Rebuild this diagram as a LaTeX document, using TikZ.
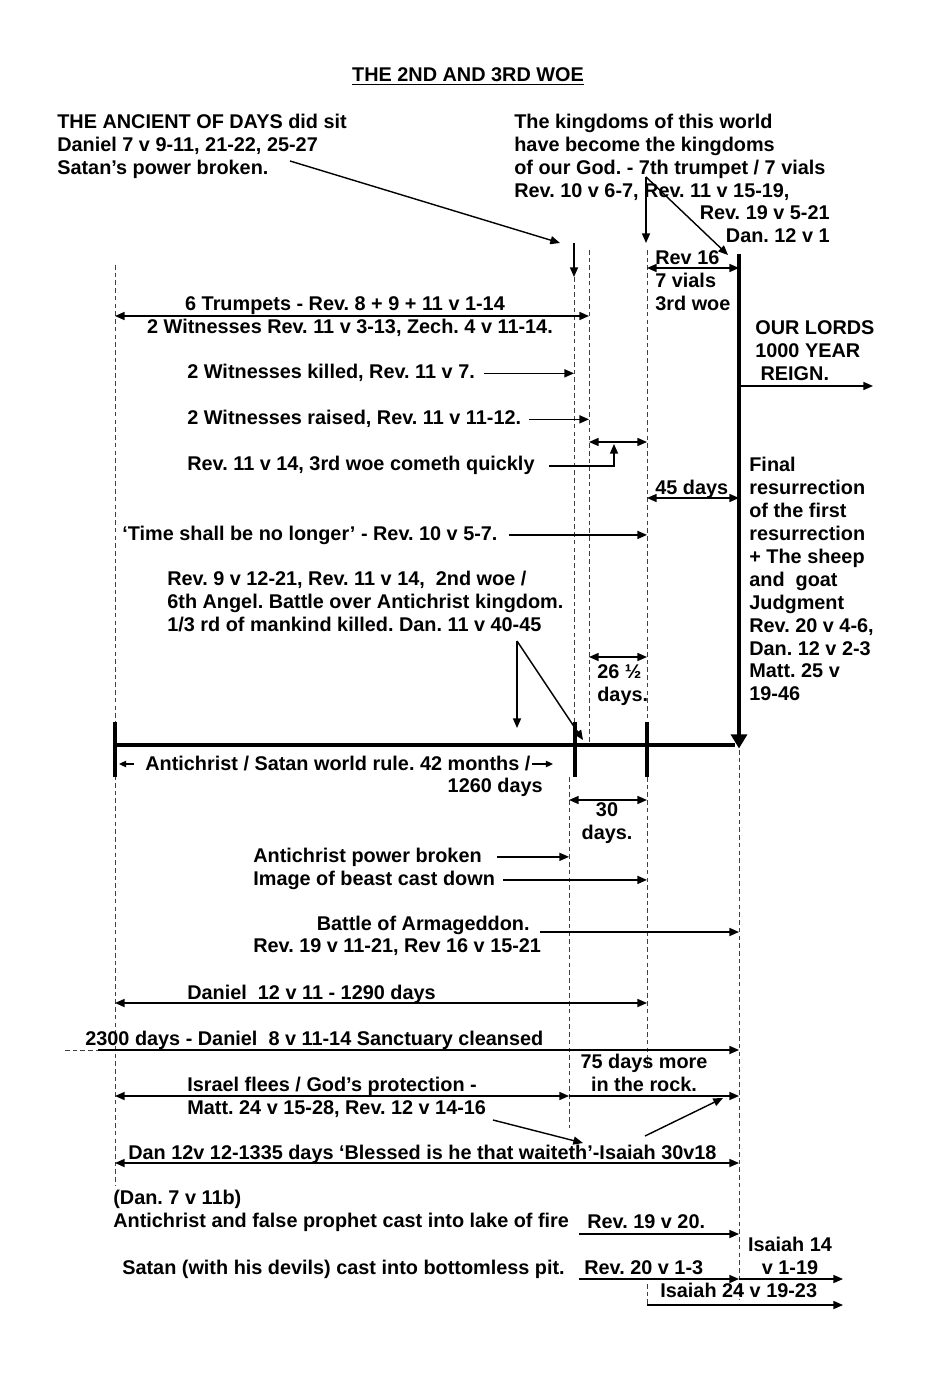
\documentclass[tikz,border=0pt]{standalone}
\usepackage{fontspec}
\setmainfont{Liberation Sans}
\usetikzlibrary{arrows.meta}
\frenchspacing

\tikzset{
  lbl/.style={inner sep=0pt, anchor=base west},
  blk/.style={inner sep=0pt, align=left, anchor=north west},
  arr/.style={line width=0.8pt, -{Triangle[length=5.5pt,width=4.6pt]}},
  darr/.style={line width=0.8pt, {Triangle[length=5.5pt,width=4.6pt]}-{Triangle[length=5.5pt,width=4.6pt]}},
  smallarr/.style={line width=0.7pt, -{Triangle[length=4pt,width=3.6pt]}},
  guide/.style={line width=0.5pt, black!75, dash pattern=on 2.6pt off 1.8pt},
  heavy/.style={line width=2.8pt},
}

\begin{document}
\begin{tikzpicture}[x=0.02cm, y=-0.02cm, font=\fontsize{11.3}{13.04}\selectfont\bfseries]
\useasboundingbox (0,0) rectangle (938,1381);

\node[inner sep=0pt, anchor=base] (title) at (468,82) {\underline{THE 2ND AND 3RD WOE}};

% guide lines
\coordinate (L) at (115,0);
\coordinate (A) at (574,0);
\coordinate (B) at (589,0);
\coordinate (C) at (647,0);
\coordinate (Ab) at (569,0);
\coordinate (D) at (739,0);
\draw[guide] (115,265) -- (115,1185);
\draw[guide] (574,277) -- (574,722);
\draw[guide] (589,250) -- (589,745);
\draw[guide] (647,250) -- (647,722);
\draw[guide] (647,777) -- (647,1070);
\draw[guide] (569,777) -- (569,1128);
\draw[guide] (739,750) -- (739,1300);

% timeline
\coordinate (t0) at (115,745);
\coordinate (t1) at (575,745);
\coordinate (t2) at (647,745);
\coordinate (t3) at (739,745);
\coordinate (bartop) at (739,254);
\draw[heavy] (t0) -- (735,745);
\draw[heavy] (t0) ++(0,-23) -- ++(0,55);
\draw[heavy] (t1) ++(0,-23) -- ++(0,55);
\draw[heavy] (t2) ++(0,-23) -- ++(0,55);
\draw[heavy, -{Triangle[length=8pt,width=9pt]}] (bartop) -- ([yshift=-2pt]t3);

% top
\node[blk] (ancient) at (57,114) {THE ANCIENT OF DAYS did sit\\Daniel 7 v 9-11, 21-22, 25-27\\Satan’s power broken.};
\node[blk] (kingdoms) at (514,114) {The kingdoms of this world\\have become the kingdoms\\of our God. - 7th trumpet / 7 vials\\Rev. 10 v 6-7, Rev. 11 v 15-19,};
\node[inner sep=0pt, align=right, anchor=north east] (kingref) at (830,205) {Rev. 19 v 5-21\\Dan. 12 v 1};
\coordinate (ancfrom) at (290,161);
\coordinate (ancto) at (560,243);
\coordinate (godfrom) at (646,177);
\coordinate (godto) at (646,243);
\coordinate (reignto) at (728,255);
\coordinate (downA) at (574,243);
\coordinate (downB) at (574,277);
\draw[arr] (ancfrom) -- (ancto);
\draw[arr] (godfrom) -- (godto);
\draw[arr] (godfrom) -- (reignto);
\draw[arr] (downA) -- (downB);

\node[blk] (vials) at (655,250) {Rev 16\\7 vials\\3rd woe};
\coordinate (v1) at (647,268);
\coordinate (v2) at (739,268);
\draw[darr] (v1) -- (v2);

\node[blk] (reign) at (755,320) {OUR LORDS\\1000 YEAR\\\hspace*{3pt}REIGN.};
\coordinate (r1) at (739,386);
\coordinate (r2) at (873,386);
\draw[arr] (r1) -- (r2);

\node[inner sep=0pt, anchor=base] (trumpets) at (345,311) {6 Trumpets - Rev. 8 + 9 + 11 v 1-14};
\node[inner sep=0pt, anchor=base] (witnesses) at (350,334) {2 Witnesses Rev. 11 v 3-13, Zech. 4 v 11-14.};
\coordinate (tr1) at (115,316);
\coordinate (tr2) at (589,316);
\draw[darr] (tr1) -- (tr2);

\node[lbl] (killed) at (187,379) {2 Witnesses killed, Rev. 11 v 7.};
\draw[arr] ([xshift=5pt]killed.east) -- (killed.east -| A);
\node[lbl] (raised) at (187,425) {2 Witnesses raised, Rev. 11 v 11-12.};
\draw[arr] ([xshift=4.5pt]raised.east) -- (raised.east -| B);

\node[lbl] (quickly) at (187,471) {Rev. 11 v 14, 3rd woe cometh quickly};
\coordinate (q1) at (589,442);
\coordinate (q2) at (647,442);
\coordinate (qup) at (614,444);
\draw[darr] (q1) -- (q2);
\draw[arr] ([xshift=8pt]quickly.east) -| (qup);

\node[lbl] (fortyfive) at (655,494) {45 days};
\coordinate (f1) at (647,498);
\coordinate (f2) at (739,498);
\draw[darr] (f1) -- (f2);

\node[lbl] (nolonger) at (122,540) {‘Time shall be no longer’ - Rev. 10 v 5-7.};
\draw[arr] ([xshift=6.5pt]nolonger.east) -- (nolonger.east -| C);

\node[blk] (final) at (749,457) {Final\\resurrection\\of the first\\resurrection\\+ The sheep\\and\ \ goat\\Judgment\\Rev. 20 v 4-6,\\Dan. 12 v 2-3\\Matt. 25 v\\19-46};

\node[blk] (secondwoe) at (167,571) {Rev. 9 v 12-21, Rev. 11 v 14,\ \ 2nd woe /\\6th Angel. Battle over Antichrist kingdom.\\1/3 rd of mankind killed. Dan. 11 v 40-45};
\coordinate (woefrom) at (517,641);
\coordinate (woedown) at (517,728);
\coordinate (woetick) at (583,740);
\draw[arr] (woefrom) -- (woedown);
\draw[arr] (woefrom) -- (woetick);

\node[blk] (halfdays) at (597,664) {26 ½\\days.};
\coordinate (h1) at (589,657);
\coordinate (h2) at (647,657);
\draw[darr] (h1) -- (h2);

% below timeline
\node[lbl] (rule) at (145,770) {Antichrist / Satan world rule. 42 months /};
\node[inner sep=0pt, anchor=base east] (ruledays) at (543,792) {1260 days};
\coordinate (rl1) at (134,764);
\coordinate (rl2) at (119,764);
\coordinate (rr1) at (532,764);
\coordinate (rr2) at (553,764);
\draw[smallarr] (rl1) -- (rl2);
\draw[smallarr] (rr1) -- (rr2);

\node[inner sep=0pt, align=center, anchor=north] (thirty) at (607,802) {30\\days.};
\coordinate (th1) at (569,800);
\coordinate (th2) at (647,800);
\draw[darr] (th1) -- (th2);

\node[lbl] (broken) at (253,862) {Antichrist power broken};
\draw[arr] ([xshift=8.5pt]broken.east) -- (broken.east -| Ab);
\node[lbl] (image) at (253,885) {Image of beast cast down};
\draw[arr] ([xshift=4.5pt]image.east) -- (image.east -| C);

\node[inner sep=0pt, anchor=base east] (armA) at (530,930) {Battle of Armageddon.};
\node[lbl] (armB) at (253,952) {Rev. 19 v 11-21, Rev 16 v 15-21};
\coordinate (ar1) at (540,932);
\coordinate (ar2) at (739,932);
\draw[arr] (ar1) -- (ar2);

\node[lbl] (daniel) at (187,999) {Daniel\ \ 12 v 11 - 1290 days};
\coordinate (d1) at (115,1003);
\coordinate (d2) at (647,1003);
\draw[darr] (d1) -- (d2);

\node[lbl] (sanctuary) at (85,1045) {2300 days - Daniel\ \ 8 v 11-14 Sanctuary cleansed};
\coordinate (s0) at (65,1050);
\coordinate (s1) at (98,1050);
\coordinate (s2) at (739,1050);
\draw[guide] (s0) -- (s1);
\draw[arr] (s1) -- (s2);

\node[inner sep=0pt, align=center, anchor=north] (rock) at (644,1054) {75 days more\\in the rock.};
\node[blk] (israel) at (187,1077) {Israel flees / God’s protection -\\Matt. 24 v 15-28, Rev. 12 v 14-16};
\coordinate (i1) at (115,1096);
\coordinate (i2) at (569,1096);
\coordinate (i3) at (739,1096);
\draw[darr] (i1) -- (i2);
\draw[arr] (i2) -- (i3);
\coordinate (m1) at (493,1120);
\coordinate (m2) at (583,1143);
\coordinate (m3) at (645,1136);
\coordinate (m4) at (723,1098);
\draw[arr] (m1) -- (m2);
\draw[arr] (m3) -- (m4);

\node[lbl] (blessed) at (128,1159) {Dan 12v 12-1335 days ‘Blessed is he that waiteth’-Isaiah 30v18};
\coordinate (b1) at (115,1163);
\coordinate (b2) at (739,1163);
\draw[darr] (b1) -- (b2);

\node[blk] (lake) at (113,1190) {(Dan. 7 v 11b)\\Antichrist and false prophet cast into lake of fire};
\node[lbl] (rev1920) at (587,1228) {Rev. 19 v 20.};
\coordinate (k1) at (579,1234);
\coordinate (k2) at (739,1234);
\draw[arr] (k1) -- (k2);

\node[inner sep=0pt, align=center, anchor=north] (isaiah14) at (790,1237) {Isaiah 14\\v 1-19};
\node[lbl] (satan) at (122,1274) {Satan (with his devils) cast into bottomless pit.};
\node[lbl] (rev2013) at (584,1274) {Rev. 20 v 1-3};
\coordinate (p1) at (579,1279);
\coordinate (p2) at (739,1279);
\coordinate (p3) at (843,1279);
\draw[arr] (p1) -- (p2);
\draw[arr] (p2) -- (p3);

\node[lbl] (isaiah24) at (660,1297) {Isaiah 24 v 19-23};
\coordinate (z0) at (647,1284);
\coordinate (z1) at (647,1305);
\coordinate (z2) at (843,1305);
\draw[guide] (z0) -- (z1);
\draw[arr] (z1) -- (z2);
\end{tikzpicture}
\end{document}
